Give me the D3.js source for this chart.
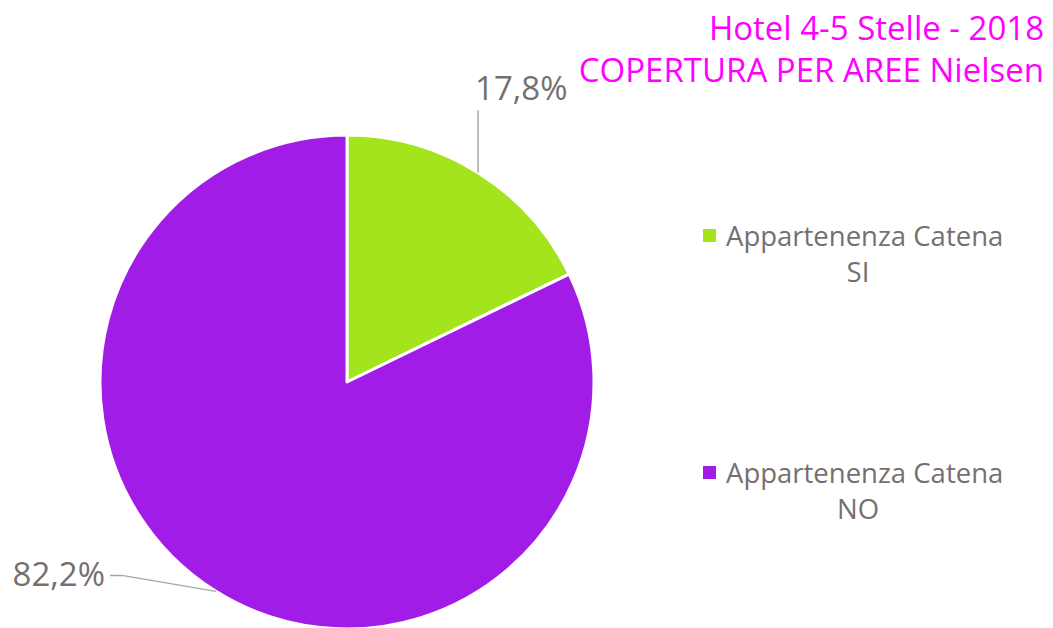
<!DOCTYPE html>
<meta charset="utf-8">
<style>
body { margin: 0; background: #fff; }
svg text { font-family: "Open Sans", "Liberation Sans", sans-serif; }
.lbl { fill: #757070; font-size: 33px; }
.leg { fill: #757070; font-size: 27.5px; }
.title { fill: #ff00ff; font-size: 33px; }
</style>
<body>
<script src="https://cdn.jsdelivr.net/npm/d3@7"></script>
<script>
var categories = ["Appartenenza Catena SI", "Appartenenza Catena NO"];
var values = [17.8, 82.2];
var colors = ["#a3e41c", "#a21ce8"];
var titleLines = ["Hotel 4-5 Stelle - 2018", "COPERTURA PER AREE Nielsen"];

var W = 1053, H = 628;
var cx = 347, cy = 382, r = 247;

var svg = d3.select("body").append("svg")
    .attr("width", W).attr("height", H);

var pie = d3.pie().sort(null).value(function(d) { return d; });
var arc = d3.arc().innerRadius(0).outerRadius(r);
var arcs = pie(values);

var g = svg.append("g").attr("transform", "translate(" + cx + "," + cy + ")");

g.selectAll("path")
  .data(arcs)
  .enter().append("path")
  .attr("d", arc)
  .attr("fill", function(d, i) { return colors[i]; })
  .attr("stroke", "#fff")
  .attr("stroke-width", 3)
  .attr("stroke-linejoin", "round");

function fmt(v) { return v.toFixed(1).replace(".", ",") + "%"; }

// leader lines + labels
arcs.forEach(function(d, i) {
  var mid = (d.startAngle + d.endAngle) / 2;
  var px = Math.sin(mid) * r, py = -Math.cos(mid) * r;
  if (i === 0) {
    g.append("line")
      .attr("x1", px).attr("y1", py)
      .attr("x2", px).attr("y2", py - 62)
      .attr("stroke", "#a6a6a6").attr("stroke-width", 1.5);
    g.append("text").attr("class", "lbl")
      .attr("x", px - 3).attr("y", py - 73)
      .text(fmt(values[i]));
  } else {
    g.append("polyline")
      .attr("points", [[px, py], [px - 94, py - 16], [px - 106, py - 16]].join(" "))
      .attr("fill", "none")
      .attr("stroke", "#a6a6a6").attr("stroke-width", 1.5);
    g.append("text").attr("class", "lbl")
      .attr("text-anchor", "end")
      .attr("x", px - 111).attr("y", py - 5)
      .text(fmt(values[i]));
  }
});

// title
svg.selectAll(".title")
  .data(titleLines)
  .enter().append("text")
  .attr("class", "title")
  .attr("text-anchor", "end")
  .attr("x", 1044)
  .attr("y", function(d, i) { return 40 + i * 42; })
  .text(function(d) { return d; });

// legend
var leg = svg.selectAll(".legitem")
  .data(categories)
  .enter().append("g")
  .attr("class", "legitem")
  .attr("transform", function(d, i) { return "translate(703," + (229 + i * 237) + ")"; });

leg.append("rect")
  .attr("width", 13).attr("height", 13)
  .attr("fill", function(d, i) { return colors[i]; });

leg.append("text").attr("class", "leg")
  .attr("x", 23).attr("y", 17)
  .text(function(d) { return d.split(" ").slice(0, 2).join(" "); });

leg.append("text").attr("class", "leg")
  .attr("x", 155).attr("y", 53)
  .attr("text-anchor", "middle")
  .text(function(d) { return d.split(" ")[2]; });
</script>
</body>
